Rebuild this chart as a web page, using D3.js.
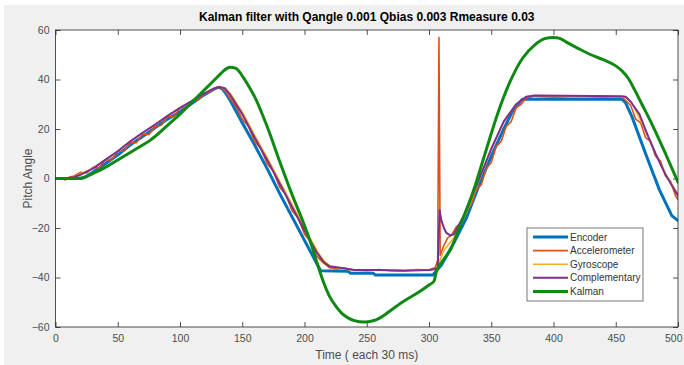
<!DOCTYPE html>
<html>
<head>
<meta charset="utf-8">
<script src="https://cdn.jsdelivr.net/npm/d3@7"></script>
<style>
  html, body { margin: 0; padding: 0; background: #ffffff; }
  svg { display: block; font-family: "Liberation Sans", Arial, Helvetica, sans-serif; }
</style>
</head>
<body>
<svg id="chart" width="684" height="365"></svg>
<script>
// Pitch angle estimates, [sample index, degrees]
const encoder = [
  [0,0],[20,0],[23,0.3],[30,2.5],[40,6],[50,9.5],[60,13.5],[70,17],[80,20.5],[90,24],
  [100,27],[110,30.5],[120,34],[128,36.3],[131,36.8],[134,36.2],[137,34.2],[140,31.8],[150,22.5],
  [160,13.5],[170,4],[180,-6],[190,-15.5],[200,-25],[210,-34.5],[213,-37.3],[235,-37.5],
  [237,-38.3],[255,-38.3],[257,-39],[303,-39],[310,-35],[320,-26],[330,-16],[340,-3],
  [350,9],[360,20],[368,28],[375,32],[455,32],[458,30.5],[463,25],[474,10],[485,-4.5],
  [495,-15],[500,-17]
];

const accelerometer = [
  [0,0],[5,0],[8,-0.6],[11,0.6],[15,1],[20,2.5],[25,2.2],[30,4.5],[35,4.3],[40,7.5],
  [45,7.5],[50,11],[55,11],[60,14.5],[65,14.5],[70,18],[75,17.8],[80,21],[85,21.5],
  [90,25],[95,25],[100,28.5],[105,28.5],[110,31.5],[115,31.8],[120,34.5],[125,35.2],
  [130,37],[133,36.6],[136,35.5],[140,32.5],[145,29],[150,24],[155,21],[160,15],[165,12],
  [170,6],[175,3],[180,-3.5],[185,-6.5],[190,-13],[195,-16],[200,-22.5],[205,-25.5],
  [210,-31.5],[215,-34],[220,-36],[225,-36.5],[232,-36.2],[240,-37],[250,-37.3],
  [260,-36.8],[270,-37.3],[280,-37.3],[290,-36.8],[300,-37],[305,-36],[307,-33],
  [308,57],[309,-31],[312,-27],[315,-24],[318,-23],[322,-19.5],[326,-18],[330,-12.5],
  [334,-10.5],[338,-4.5],[342,-2.5],[346,4],[350,6.5],[354,13],[358,15],[362,21],
  [366,23],[370,28.5],[374,30],[378,32.5],[385,33.2],[400,32.8],[420,33.2],[440,32.8],
  [455,33],[458,31.5],[462,29.5],[466,24],[470,22.5],[474,16.5],[478,15],[482,9],
  [486,7],[490,1],[494,-1],[498,-7],[500,-8.5]
];

const gyroscope = [
  [0,0],[12,0],[15,0.5],[20,1.8],[30,4.2],[40,7.6],[50,11],[60,15],[70,18.5],[80,21.8],
  [90,25.3],[100,28.5],[110,31.5],[120,34.5],[128,36.5],[132,37],[136,36.5],[141,34],
  [151,26],[161,16.5],[171,7.5],[181,-2],[191,-11.5],[201,-21],[211,-30],[216,-33.5],
  [221,-35.5],[231,-36.5],[240,-37],[300,-37],[306,-36.5],[312,-29],[320,-24],[330,-14],
  [340,-1],[350,12],[360,23],[370,30],[378,33],[385,33.5],[455,33],[459,32.5],[463,30.5],
  [470,23.5],[477,16],[483,9],[490,2],[500,-6.5]
];

const complementary = [
  [0,0],[10,0],[15,0.5],[20,1.5],[30,4],[40,7.5],[50,11],[60,15],[70,18.5],[80,21.8],
  [90,25.3],[100,28.5],[110,31.5],[120,34.5],[128,36.5],[132,37],[136,36.5],[140,34],
  [150,26],[160,16.5],[170,7.5],[180,-2],[190,-11.5],[200,-21],[210,-30],[215,-33.5],
  [220,-35.5],[230,-36.2],[240,-37],[260,-37],[280,-37.3],[300,-37],[307,-36.5],
  [308.5,-12.8],[310,-17],[312,-20],[314,-22],[317,-23],[320,-22.5],[330,-13],[340,-0.5],
  [350,12],[360,23],[370,30],[378,33],[385,33.5],[455,33.2],[458,33],[462,31],[469,26],
  [476,17],[482,10],[490,1.5],[500,-7]
];

const kalman = [
  [0,0],[18,0],[25,0.8],[30,2],[40,4.5],[50,7.5],[60,10.5],[70,13.5],[76,15.4],[80,17],
  [90,21.5],[100,26],[110,31],[120,36],[130,41],[135,43.5],[140,45],[145,44.5],[150,41.5],
  [155,37.5],[160,33],[170,21],[180,7],[190,-6.5],[200,-19],[206,-27.5],[210,-34],
  [215,-41.5],[220,-47.5],[225,-51.5],[230,-54.5],[235,-56.3],[240,-57.4],[248,-58],
  [255,-57.5],[260,-56.5],[270,-53],[280,-49.5],[290,-46.5],[300,-43],[304,-41.5],
  [306,-37.5],[310,-34],[318,-28],[325,-19],[335,-6],[345,10],[355,26],[365,39],
  [375,48.5],[385,54],[393,56.5],[400,57],[405,56.6],[410,55.2],[420,52.5],[430,50],
  [440,48],[450,45.5],[455,43.5],[460,40.5],[465,36],[470,31],[480,21],[490,10],[500,-1.5]
];

const seriesNames = ["Encoder", "Accelerometer", "Gyroscope", "Complementary", "Kalman"];
const seriesData = [encoder, accelerometer, gyroscope, complementary, kalman];
const seriesColors = ["#0072BD", "#D95319", "#EDB120", "#7E2F8E", "#0E8A14"];
const seriesWidths = [3, 1.6, 1.6, 2, 3];

const xTicks = [0, 50, 100, 150, 200, 250, 300, 350, 400, 450, 500];
const yTicks = [-60, -40, -20, 0, 20, 40, 60];

const titleText = "Kalman filter with Qangle 0.001 Qbias 0.003 Rmeasure 0.03";
const xLabel = "Time ( each 30 ms)";
const yLabel = "Pitch Angle";

const svg = d3.select("#chart");
const W = 684, H = 365;
const plot = { left: 55.5, right: 678, top: 30, bottom: 327 };

// figure background
svg.append("rect").attr("x", 4).attr("y", 5).attr("width", W - 4).attr("height", H - 5)
  .attr("fill", "#f0f0f0");

const x = d3.scaleLinear().domain([0, 500]).range([plot.left, plot.right]);
const y = d3.scaleLinear().domain([-60, 60]).range([plot.bottom, plot.top]);

// axes area
svg.append("rect")
  .attr("x", plot.left).attr("y", plot.top)
  .attr("width", plot.right - plot.left).attr("height", plot.bottom - plot.top)
  .attr("fill", "#ffffff");

svg.append("defs").append("clipPath").attr("id", "plotClip")
  .append("rect")
  .attr("x", plot.left).attr("y", plot.top - 2)
  .attr("width", plot.right - plot.left).attr("height", plot.bottom - plot.top + 4);

const axisColor = "#262626";
const labelColor = "#4d4d4d";

function styleAxis(g, showText) {
  g.select(".domain").remove();
  g.selectAll(".tick line").attr("stroke", axisColor).attr("stroke-width", 0.8);
  g.selectAll(".tick text").attr("fill", labelColor).attr("font-size", 10.5);
  if (!showText) g.selectAll(".tick text").remove();
}

svg.append("g").attr("transform", `translate(0,${plot.bottom})`)
  .call(d3.axisBottom(x).tickValues(xTicks).tickSizeInner(-5).tickSizeOuter(0).tickPadding(8))
  .call(g => styleAxis(g, true))
  .call(g => g.selectAll(".tick text").filter(d => d === 500).attr("text-anchor", "end").attr("x", 4));
svg.append("g").attr("transform", `translate(0,${plot.top})`)
  .call(d3.axisTop(x).tickValues(xTicks).tickSizeInner(-5).tickSizeOuter(0))
  .call(g => styleAxis(g, false));
svg.append("g").attr("transform", `translate(${plot.left},0)`)
  .call(d3.axisLeft(y).tickValues(yTicks).tickSizeInner(-5).tickSizeOuter(0).tickPadding(6))
  .call(g => styleAxis(g, true));
svg.append("g").attr("transform", `translate(${plot.right},0)`)
  .call(d3.axisRight(y).tickValues(yTicks).tickSizeInner(-5).tickSizeOuter(0))
  .call(g => styleAxis(g, false));

// data lines
const line = d3.line().x(d => x(d[0])).y(d => y(d[1]));
const smoothLine = d3.line().x(d => x(d[0])).y(d => y(d[1])).curve(d3.curveMonotoneX);

const linesG = svg.append("g").attr("clip-path", "url(#plotClip)");
seriesData.forEach((data, i) => {
  linesG.append("path")
    .datum(data)
    .attr("d", i === 4 ? smoothLine : line)
    .attr("fill", "none")
    .attr("stroke", seriesColors[i])
    .attr("stroke-width", seriesWidths[i])
    .attr("stroke-linejoin", "round")
    .attr("stroke-linecap", "round");
});

// frame
svg.append("rect")
  .attr("x", plot.left).attr("y", plot.top)
  .attr("width", plot.right - plot.left).attr("height", plot.bottom - plot.top)
  .attr("fill", "none").attr("stroke", axisColor).attr("stroke-width", 0.8);

// title and axis labels
svg.append("text")
  .attr("x", (plot.left + plot.right) / 2).attr("y", 21)
  .attr("text-anchor", "middle").attr("font-size", 12).attr("font-weight", "bold")
  .attr("fill", "#000").text(titleText);

svg.append("text")
  .attr("x", (plot.left + plot.right) / 2).attr("y", 359)
  .attr("text-anchor", "middle").attr("font-size", 12)
  .attr("fill", labelColor).text(xLabel);

svg.append("text")
  .attr("transform", `translate(32,${(plot.top + plot.bottom) / 2}) rotate(-90)`)
  .attr("text-anchor", "middle").attr("font-size", 12)
  .attr("fill", labelColor).text(yLabel);

// legend
const lg = svg.append("g").attr("transform", "translate(527,228)");
lg.append("rect").attr("width", 116).attr("height", 73)
  .attr("fill", "#ffffff").attr("stroke", "#555").attr("stroke-width", 0.8);
seriesNames.forEach((name, i) => {
  const yy = 9 + i * 13.6;
  lg.append("line").attr("x1", 6).attr("x2", 41).attr("y1", yy).attr("y2", yy)
    .attr("stroke", seriesColors[i]).attr("stroke-width", seriesWidths[i]);
  lg.append("text").attr("x", 43).attr("y", yy + 3.6)
    .attr("font-size", 10).attr("fill", "#333").text(name);
});
</script>
</body>
</html>
